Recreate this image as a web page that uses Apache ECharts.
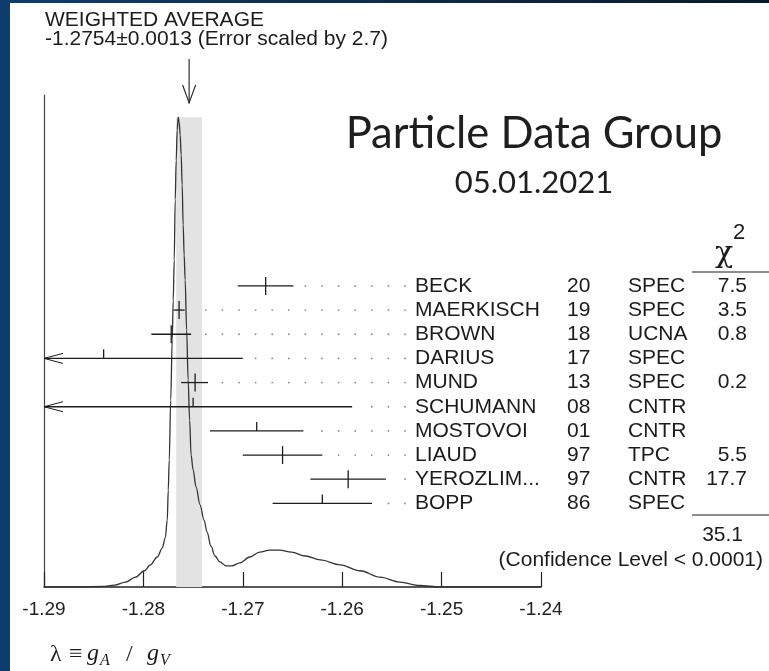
<!DOCTYPE html>
<html>
<head>
<meta charset="utf-8">
<script src="https://cdn.jsdelivr.net/npm/echarts@6/dist/echarts.min.js"></script>
<style>
  html, body { margin: 0; padding: 0; background: #ffffff; }
  #chart { width: 769px; height: 671px; }
</style>
</head>
<body>
<div id="chart"></div>
<script>
// Measurements of lambda = gA/gV entering the ideogram
const names      = ['BECK', 'MAERKISCH', 'BROWN', 'DARIUS', 'MUND', 'SCHUMANN', 'MOSTOVOI', 'LIAUD', 'YEROZLIM...', 'BOPP'];
const years      = ['20', '19', '18', '17', '13', '08', '01', '97', '97', '86'];
const techniques = ['SPEC', 'SPEC', 'UCNA', 'SPEC', 'SPEC', 'CNTR', 'CNTR', 'TPC', 'CNTR', 'SPEC'];
const values     = [-1.2677, -1.27641, -1.2772, -1.2840, -1.2748, -1.2750, -1.2686, -1.2660, -1.2594, -1.2620];
const errLow     = [0.0028, 0.00056, 0.0020, 0.0140, 0.0014, 0.0160, 0.0047, 0.0040, 0.0038, 0.0050];
const errHigh    = [0.0028, 0.00056, 0.0020, 0.0140, 0.0013, 0.0160, 0.0047, 0.0040, 0.0038, 0.0050];
const chi2       = ['7.5', '3.5', '0.8', '', '0.2', '', '', '5.5', '17.7', ''];
const usedInFit  = [true, true, true, false, true, false, false, true, true, false];

// Weighted average summary
const average    = -1.2754;
const averageErr = 0.0013;
const errorScale = '2.7';
const chi2Total  = '35.1';
const confidence = '(Confidence Level < 0.0001)';

// Ideogram curve (sum of the measurement gaussians), arbitrary units
const curveX = [-1.2900, -1.2864, -1.2841, -1.2829, -1.2818, -1.2808, -1.2799, -1.2793, -1.2786, -1.2781,
                -1.2778, -1.2776, -1.2775, -1.2774, -1.27725, -1.2771, -1.2770, -1.2769, -1.2768, -1.2767,
                -1.2766, -1.2765, -1.2764, -1.2763, -1.2762, -1.2761, -1.2760, -1.2759, -1.2758, -1.27565,
                -1.2755, -1.27535, -1.2752, -1.2750, -1.2747, -1.2743, -1.2739, -1.2736, -1.2732, -1.2728,
                -1.2723, -1.2717, -1.2711, -1.2703, -1.2693, -1.2683, -1.2673, -1.2663, -1.2651, -1.2637,
                -1.2622, -1.2602, -1.2582, -1.2562, -1.2542, -1.2522, -1.2502, -1.2400];
const curveY = [0, 0, 0.001, 0.004, 0.010, 0.020, 0.033, 0.045, 0.061, 0.079,
                0.100, 0.136, 0.197, 0.258, 0.380, 0.502, 0.583, 0.665, 0.787, 0.868,
                0.929, 0.955, 0.945, 0.919, 0.878, 0.817, 0.736, 0.675, 0.624, 0.522,
                0.421, 0.339, 0.268, 0.238, 0.203, 0.167, 0.136, 0.112, 0.083, 0.063,
                0.051, 0.043, 0.043, 0.049, 0.061, 0.071, 0.075, 0.075, 0.071, 0.063,
                0.055, 0.045, 0.033, 0.020, 0.010, 0.003, 0, 0];

// Axis ticks
const xTicks = [-1.29, -1.28, -1.27, -1.26, -1.25, -1.24];
const xTickLabels = ['-1.29', '-1.28', '-1.27', '-1.26', '-1.25', '-1.24'];

const SANS = 'Liberation Sans';
const SERIF = 'Liberation Serif';
const INK = '#1c1c1c';
const ROW_FONT = 21;

const curveData = curveX.map((x, i) => [x, curveY[i]]);
const rowData = values.map((v, i) => [v, i, v - errLow[i], v + errHigh[i], usedInFit[i] ? 1 : 0]);
const bandTop = Math.max.apply(null, curveY);

function tickLabel(v) {
  let best = 0;
  xTicks.forEach((t, i) => { if (Math.abs(t - v) < Math.abs(xTicks[best] - v)) best = i; });
  return xTickLabels[best];
}

// Shaded band of the weighted average plus the pointer arrow above the plot
function renderBand(params, api) {
  const lo = api.coord([average - averageErr, bandTop]);
  const hi = api.coord([average + averageErr, 0]);
  const top = api.coord([average, 1]);
  const ax = top[0];
  const tipY = top[1] + 8;
  const line = { stroke: '#222', lineWidth: 1.1 };
  return {
    type: 'group',
    children: [
      { type: 'rect', shape: { x: lo[0], y: lo[1], width: hi[0] - lo[0], height: hi[1] - lo[1] },
        style: { fill: '#e3e3e3' } },
      { type: 'line', shape: { x1: ax, y1: top[1] - 36, x2: ax, y2: tipY }, style: line },
      { type: 'polyline', shape: { points: [[ax - 6.5, tipY - 18], [ax, tipY], [ax + 6.5, tipY - 18]] },
        style: Object.assign({ fill: null }, line) }
    ]
  };
}

// One measurement row: error bar, leader dots and the table columns
function renderRow(params, api) {
  const i = params.dataIndex;
  const v = api.value(0), row = api.value(1), lo = api.value(2), hi = api.value(3), used = api.value(4);
  const xMin = xTicks[0];
  const c = api.coord([v, row]);
  const y = c[1];
  const xl = api.coord([Math.max(lo, xMin), row])[0];
  const xr = api.coord([hi, row])[0];
  const stroke = { stroke: INK, lineWidth: 1.3 };
  const kids = [];
  kids.push({ type: 'line', shape: { x1: xl, y1: y, x2: xr, y2: y }, style: stroke });
  kids.push({ type: 'line', shape: { x1: c[0], y1: y - 9, x2: c[0], y2: used ? y + 9 : y }, style: stroke });
  if (lo < xMin) {
    kids.push({ type: 'polyline', shape: { points: [[xl + 19, y - 5], [xl, y], [xl + 19, y + 5]] },
      style: Object.assign({ fill: null }, stroke, { lineWidth: 1 }) });
  }
  for (let dx = 405; dx > xr + 10; dx -= 16.6) {
    kids.push({ type: 'circle', shape: { cx: dx, cy: y, r: 0.9 }, style: { fill: '#8a8a8a' } });
  }
  const txt = (x, s, align) => ({
    type: 'text', x: x, y: y,
    style: { text: s, fill: INK, font: ROW_FONT + 'px "' + SANS + '"', align: align, verticalAlign: 'middle' }
  });
  kids.push(txt(415, names[i], 'left'));
  kids.push(txt(567, years[i], 'left'));
  kids.push(txt(628, techniques[i], 'left'));
  if (chi2[i]) kids.push(txt(747, chi2[i], 'right'));
  return { type: 'group', children: kids };
}

function gText(x, y, text, size, opts) {
  return {
    type: 'text', x: x, y: y,
    style: Object.assign({ text: text, fill: INK, font: size + 'px "' + SANS + '"', align: 'left', verticalAlign: 'middle' },
      opts || {})
  };
}

const chart = echarts.init(document.getElementById('chart'), null, { renderer: 'canvas' });

chart.setOption({
  animation: false,
  backgroundColor: '#ffffff',
  grid: { left: 44, right: 228, top: 95, bottom: 84, containLabel: false },
  xAxis: {
    type: 'value',
    min: xTicks[0],
    max: xTicks[xTicks.length - 1],
    interval: 0.01,
    axisLine: { show: true, onZero: false, lineStyle: { color: '#222', width: 1.5 } },
    axisTick: { show: true, inside: true, length: 15, lineStyle: { color: '#222', width: 1.2 } },
    axisLabel: { show: true, margin: 13, fontSize: 19, fontFamily: SANS, color: '#222', formatter: tickLabel },
    splitLine: { show: false }
  },
  yAxis: [
    {
      type: 'value', min: 0, max: 1,
      axisLine: { show: true, lineStyle: { color: '#444', width: 1.2 } },
      axisTick: { show: false }, axisLabel: { show: false }, splitLine: { show: false }
    },
    {
      type: 'value', inverse: true, min: -7.9, max: 12.46, show: false,
      splitLine: { show: false }
    }
  ],
  series: [
    {
      type: 'custom', z: 1, xAxisIndex: 0, yAxisIndex: 0,
      data: [[average, averageErr]],
      renderItem: renderBand, clip: false, silent: true
    },
    {
      type: 'line', z: 2, xAxisIndex: 0, yAxisIndex: 0,
      data: curveData, showSymbol: false, smooth: 0.35, smoothMonotone: 'x',
      lineStyle: { color: '#333', width: 1.3 }, silent: true
    },
    {
      type: 'custom', z: 3, xAxisIndex: 0, yAxisIndex: 1,
      data: rowData, encode: { x: 0, y: 1 },
      renderItem: renderRow, clip: false, silent: true
    }
  ],
  graphic: [
    // slide frame
    { type: 'rect', shape: { x: 0, y: 0, width: 10, height: 671 }, style: { fill: '#0d3e6d' }, z: 10 },
    { type: 'rect', shape: { x: 0, y: 0, width: 769, height: 3 }, z: 10,
      style: { fill: new echarts.graphic.LinearGradient(0, 0, 1, 0, [
        { offset: 0, color: '#0d3e6d' }, { offset: 1, color: '#0a1a2e' }]) } },

    gText(45, 20, 'WEIGHTED AVERAGE', 21),
    gText(45, 39, average.toFixed(4) + '\u00b1' + averageErr.toFixed(4) + ' (Error scaled by ' + errorScale + ')', 21),

    gText(534, 134, 'Particle Data Group', 43.5, { font: '43.5px Lato', align: 'center', fill: '#1e1e1e' }),
    gText(534, 183, '05.01.2021', 31, { font: '31px Lato', align: 'center', fill: '#1e1e1e' }),

    // chi-squared column header and total
    gText(724, 254, '\u03c7', 30, { font: '30px "DejaVu Serif"', align: 'center' }),
    gText(739, 233, '2', 22, { align: 'center' }),
    { type: 'line', shape: { x1: 692, y1: 272, x2: 769, y2: 272 }, style: { stroke: INK, lineWidth: 1.2 } },
    { type: 'line', shape: { x1: 692, y1: 515, x2: 769, y2: 515 }, style: { stroke: INK, lineWidth: 1.2 } },
    gText(743, 535, chi2Total, ROW_FONT, { align: 'right' }),
    gText(763, 560, confidence, ROW_FONT, { align: 'right' }),

    // axis quantity
    gText(50, 655, '\u03bb', 24, { font: '24px "' + SERIF + '"' }),
    gText(69, 655, '\u2261', 24, { font: '24px "' + SERIF + '"' }),
    gText(87, 654, 'g', 24, { font: 'italic 24px "' + SERIF + '"' }),
    gText(100, 661, 'A', 16, { font: 'italic 16px "' + SERIF + '"' }),
    gText(126, 655, '/', 24, { font: '24px "' + SERIF + '"' }),
    gText(147, 654, 'g', 24, { font: 'italic 24px "' + SERIF + '"' }),
    gText(160, 661, 'V', 16, { font: 'italic 16px "' + SERIF + '"' })
  ]
});
</script>
</body>
</html>
